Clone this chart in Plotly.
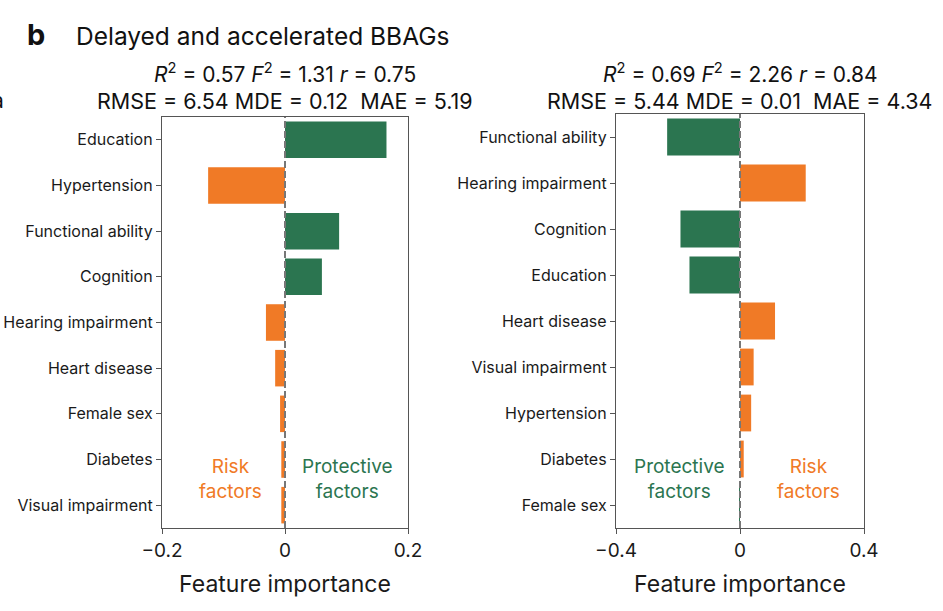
import plotly.graph_objects as go

# ---------------- data ----------------
left_features = ["Education", "Hypertension", "Functional ability", "Cognition",
                 "Hearing impairment", "Heart disease", "Female sex", "Diabetes",
                 "Visual impairment"]
left_values = [0.165, -0.125, 0.088, 0.060, -0.031, -0.016, -0.008, -0.006, -0.006]

right_features = ["Functional ability", "Hearing impairment", "Cognition", "Education",
                  "Heart disease", "Visual impairment", "Hypertension", "Diabetes",
                  "Female sex"]
right_values = [-0.235, 0.212, -0.192, -0.163, 0.113, 0.044, 0.036, 0.012, -0.003]

left_ticks = [-0.2, 0, 0.2]
left_ticktext = ["\u22120.2", "0", "0.2"]
right_ticks = [-0.4, 0, 0.4]
right_ticktext = ["\u22120.4", "0", "0.4"]

title_text = "Delayed and accelerated BBAGs"
left_stats = ["<i>R</i><sup>2</sup> = 0.57 <i>F</i><sup>2</sup> = 1.31 <i>r</i> = 0.75",
              "RMSE = 6.54 MDE = 0.12  MAE = 5.19"]
right_stats = ["<i>R</i><sup>2</sup> = 0.69 <i>F</i><sup>2</sup> = 2.26 <i>r</i> = 0.84",
               "RMSE = 5.44 MDE = 0.01  MAE = 4.34"]

GREEN = "#2b7550"
ORANGE = "#f07a26"
FONT = "Inter"
W, H = 943, 611


def px_x(p):
    return p / W


def px_y(p):
    return 1 - p / H


left_colors = [GREEN if v > 0 else ORANGE for v in left_values]
right_colors = [ORANGE if v > 0 else GREEN for v in right_values]

fig = go.Figure()
fig.add_trace(go.Bar(x=left_values, y=left_features, orientation="h",
                     marker=dict(color=left_colors, line=dict(width=0)),
                     width=0.8, xaxis="x", yaxis="y", showlegend=False))
fig.add_trace(go.Bar(x=right_values, y=right_features, orientation="h",
                     marker=dict(color=right_colors, line=dict(width=0)),
                     width=0.8, xaxis="x2", yaxis="y2", showlegend=False))

axis_common = dict(showline=True, linecolor="#555555", linewidth=1.3, mirror=True,
                   ticks="outside", tickcolor="#555555", ticklen=5, tickwidth=1.2,
                   showgrid=False, zeroline=False, automargin=False)

fig.update_layout(
    width=W, height=H,
    template="none",
    margin=dict(l=0, r=0, t=0, b=0, autoexpand=False),
    paper_bgcolor="white", plot_bgcolor="white",
    font=dict(family=FONT, color="#1a1a1a"),
    bargap=0.2,
    xaxis=dict(domain=[px_x(162), px_x(408)], range=[-0.2, 0.2], anchor="y",
               tickvals=left_ticks, ticktext=left_ticktext,
               tickfont=dict(size=19, family=FONT),
               title=dict(text="Feature importance", font=dict(size=23, family=FONT), standoff=14),
               **axis_common),
    yaxis=dict(domain=[px_y(528), px_y(117)], anchor="x", autorange=False,
               range=[8.5, -0.5], type="category", categoryorder="array",
               categoryarray=left_features,
               tickfont=dict(size=16, family=FONT), **axis_common),
    xaxis2=dict(domain=[px_x(616), px_x(864)], range=[-0.4, 0.4], anchor="y2",
                tickvals=right_ticks, ticktext=right_ticktext,
                tickfont=dict(size=19, family=FONT),
                title=dict(text="Feature importance", font=dict(size=23, family=FONT), standoff=14),
                **axis_common),
    yaxis2=dict(domain=[px_y(528), px_y(114)], anchor="x2", autorange=False,
                range=[8.5, -0.5], type="category", categoryorder="array",
                categoryarray=right_features,
                tickfont=dict(size=16, family=FONT), **axis_common),
)

# zero dashed lines
for xr, yr in (("x", "y domain"), ("x2", "y2 domain")):
    fig.add_shape(type="line", xref=xr, yref=yr, x0=0, x1=0, y0=0, y1=1,
                  line=dict(color="#777777", width=2, dash="7px,3px"), layer="above")

ann = []
ann.append(dict(text="<b>b</b>", x=px_x(25), y=px_y(34), xanchor="left", yanchor="middle",
                font=dict(size=29, family=FONT, color="#111111")))
ann.append(dict(text=title_text, x=px_x(74), y=px_y(36), xanchor="left", yanchor="middle",
                font=dict(size=24.5, family=FONT, color="#111111")))
ann.append(dict(text="a", x=px_x(6), y=px_y(100), xanchor="right", yanchor="middle",
                font=dict(size=21, family=FONT, color="#111111")))
for cx, lines in ((285, left_stats), (740, right_stats)):
    ann.append(dict(text=lines[0], x=px_x(cx), y=px_y(73), xanchor="center", yanchor="middle",
                    font=dict(size=21, family=FONT, color="#111111")))
    ann.append(dict(text=lines[1], x=px_x(cx), y=px_y(101), xanchor="center", yanchor="middle",
                    font=dict(size=21.5, family=FONT, color="#111111")))
for cx, txt, col in ((230, "Risk<br>factors", ORANGE), (347, "Protective<br>factors", GREEN),
                     (679, "Protective<br>factors", GREEN), (808, "Risk<br>factors", ORANGE)):
    ann.append(dict(text=txt, x=px_x(cx), y=px_y(479), xanchor="center", yanchor="middle",
                    font=dict(size=19, family=FONT, color=col), align="center"))
for a in ann:
    a.update(xref="paper", yref="paper", showarrow=False)
fig.update_layout(annotations=ann)

fig.write_html("out.html", config={"displayModeBar": False},
               post_script="document.body.style.margin='0';document.body.style.padding='0';")
